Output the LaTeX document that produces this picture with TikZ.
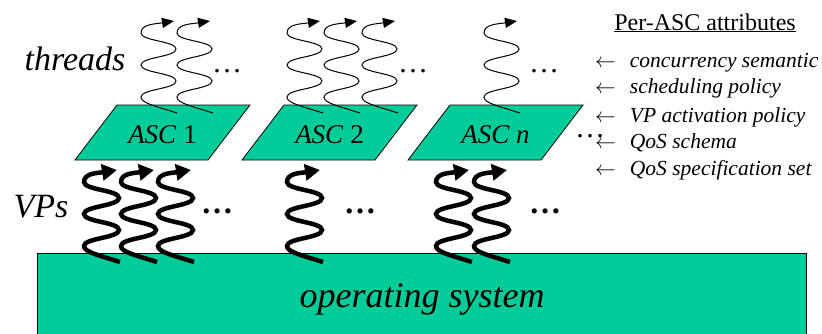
\documentclass[tikz,border=0pt]{standalone}
\usepackage{fontspec}
\setmainfont{Liberation Serif}
\usetikzlibrary{arrows.meta}
\definecolor{ascgreen}{RGB}{0,204,153}
\tikzset{
  squiggle/.pic={
    \draw (0,0) .. controls (-22,7) and (-36,10) .. (-36,16)
      .. controls (-36,24) and (-1,24) .. (-1,32)
      .. controls (-1,40) and (-36,40) .. (-36,48)
      .. controls (-36,56) and (-1,56) .. (-1,64)
      .. controls (-1,72) and (-36,72) .. (-36,80)
      .. controls (-36,89) and (-22,89) .. (-3,92);
  }
}
\begin{document}
\begin{tikzpicture}[x=1pt,y=1pt,
  box/.style={fill=ascgreen,draw=black,line width=0.8pt},
  threadline/.style={line width=1pt,-{Triangle[length=12pt,width=10pt]}},
  vpline/.style={line width=4.5pt,-{Triangle[length=15pt,width=16pt]}},
  biglabel/.style={font=\fontsize{34}{40}\selectfont\itshape,inner sep=0pt,anchor=base},
  asclabel/.style={font=\fontsize{27}{32}\selectfont,inner sep=0pt,anchor=base},
  attr/.style={font=\fontsize{21.5}{26}\selectfont,inner sep=0pt,anchor=base west},
  dotsthin/.style={font=\fontsize{30}{34}\selectfont,inner sep=0pt,anchor=base},
  dotsthick/.style={font=\fontsize{32}{36}\selectfont\bfseries,inner sep=0pt,anchor=base}
]
\useasboundingbox (0,0) rectangle (822,333);
\clip (0,0) rectangle (822,333);
\fill[white] (0,0) rectangle (822,333);

% operating system
\draw[box] (37,-3) rectangle (806,80);
\node[biglabel,font=\fontsize{36}{42}\selectfont\itshape] (os) at (422,26) {operating system};

% VPs
\foreach \x in {120,157,194,323,472,510}
  \pic[vpline] at (\x,71) {squiggle};

% ASC boxes
\draw[box] (75,173) -- (208,173) -- (250,228) -- (117,228) -- cycle;
\draw[box] (242,173) -- (375,173) -- (417,228) -- (284,228) -- cycle;
\draw[box] (408,173) -- (541,173) -- (583,228) -- (450,228) -- cycle;

% threads
\foreach \x in {177,213,323,360,398,520}
  \pic[threadline] at (\x,220) {squiggle};

% labels
\node[asclabel] (asc1) at (162.5,190) {\textit{ASC} 1};
\node[asclabel] (asc2) at (329.5,190) {\textit{ASC} 2};
\node[asclabel] (ascn) at (495.5,190) {\textit{ASC n}};

\node[biglabel] (threads) at (75,263) {threads};
\node[biglabel] (vps) at (41,116) {VPs};

% dots
\node[dotsthin] (d1) at (227,261) {…};
\node[dotsthin] (d2) at (413,261) {…};
\node[dotsthin] (d3) at (544,261) {…};
\node[dotsthin] (d4) at (590,196) {…};
\node[dotsthick] (v1) at (217,120) {…};
\node[dotsthick] (v2) at (360,120) {…};
\node[dotsthick] (v3) at (545,120) {…};

% attributes
\node[font=\fontsize{24}{28}\selectfont,inner sep=0pt,anchor=base] (title) at (705,303) {\underline{Per-ASC attributes}};
\node[attr] (a1) at (595,266) {$\leftarrow$\hspace{14pt}\textit{concurrency semantic}};
\node[attr] (a2) at (595,240) {$\leftarrow$\hspace{14pt}\textit{scheduling policy}};
\node[attr] (a3) at (595,211) {$\leftarrow$\hspace{14pt}\textit{VP activation policy}};
\node[attr] (a4) at (595,185) {$\leftarrow$\hspace{14pt}\textit{QoS schema}};
\node[attr] (a5) at (595,158) {$\leftarrow$\hspace{14pt}\textit{QoS specification set}};
\end{tikzpicture}
\end{document}
